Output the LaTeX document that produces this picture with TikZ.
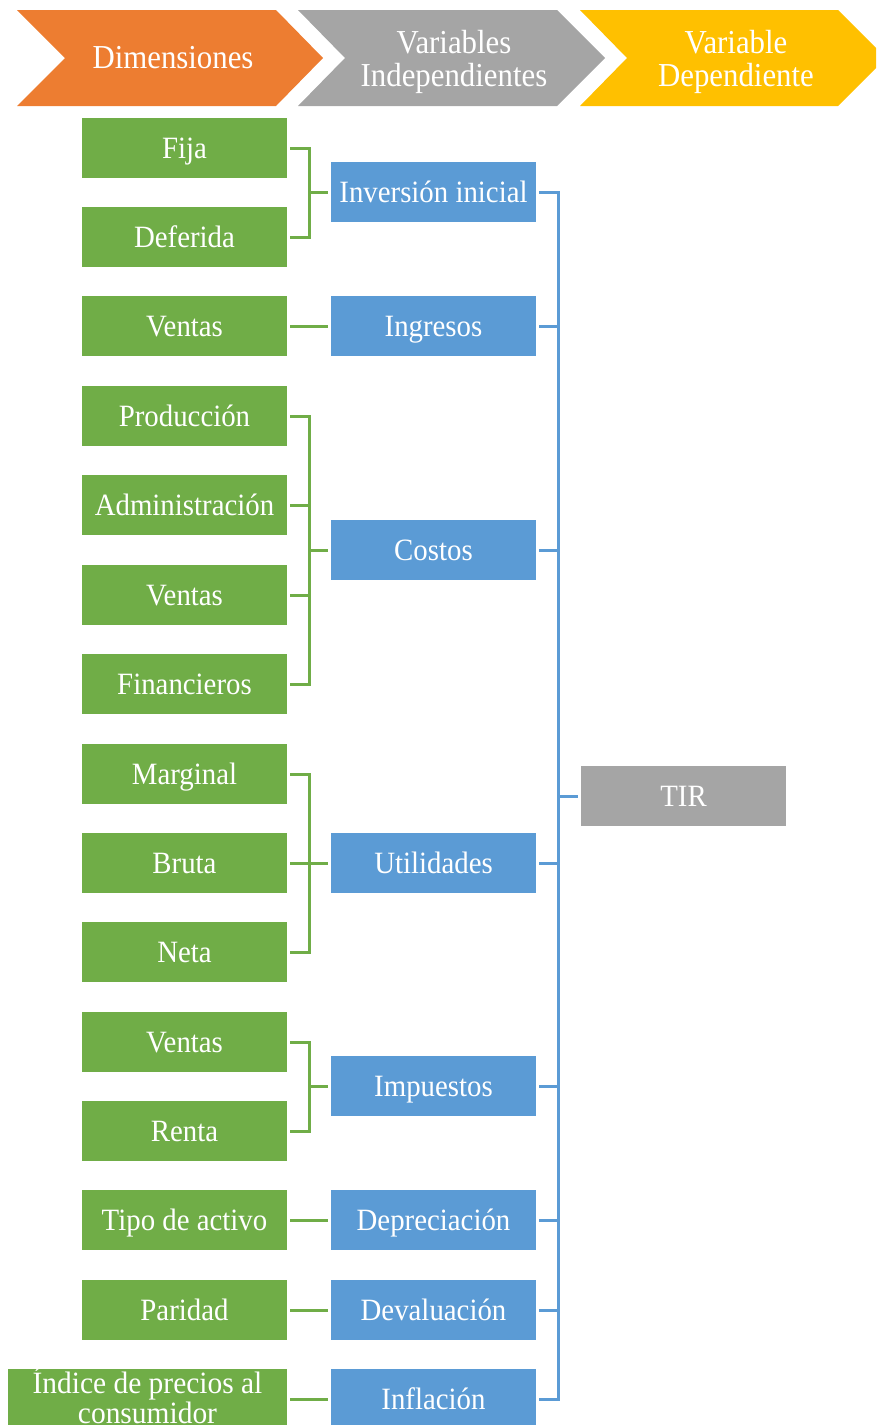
\documentclass[tikz,border=0pt]{standalone}
\usepackage{fontspec}
\setmainfont{Liberation Serif}
\newfontfamily\boxfont[FakeStretch=0.93]{Liberation Serif}
\newfontfamily\headfont[FakeStretch=0.92]{Liberation Serif}
\newfontfamily\wideboxfont[FakeStretch=0.95]{Liberation Serif}
\definecolor{cOrange}{HTML}{ED7D31}
\definecolor{cGray}{HTML}{A5A5A5}
\definecolor{cYellow}{HTML}{FFC000}
\definecolor{cGreen}{HTML}{70AD47}
\definecolor{cBlue}{HTML}{5B9BD5}
\tikzset{
  dimbox/.style={fill=cGreen, text=white, minimum width=205pt, minimum height=60pt,
    inner sep=0pt, font=\boxfont\fontsize{31}{34}\selectfont, align=center,
    text height=20.5pt, text depth=0pt},
  varbox/.style={dimbox, fill=cBlue},
  tirbox/.style={dimbox, fill=cGray},
  headtext/.style={text=white, font=\headfont\fontsize{33.5}{33}\selectfont,
    align=center, inner sep=0pt},
  gline/.style={draw=cGreen, line width=3pt},
  bline/.style={draw=cBlue, line width=3pt},
}
\begin{document}
\begin{tikzpicture}[x=1pt, y=-1pt]
\useasboundingbox (0,0) rectangle (876,1425);
\clip (0,0) rectangle (876,1425);

% header chevrons
\fill[cOrange] (17,10) -- (276,10) -- (323,58) -- (276,106) -- (17,106) -- (65,58) -- cycle;
\fill[cGray] (298,10) -- (557,10) -- (605,58) -- (557,106) -- (298,106) -- (345,58) -- cycle;
\fill[cYellow] (580,10) -- (838,10) -- (886,58) -- (838,106) -- (580,106) -- (627,58) -- cycle;
\node[headtext, text height=22pt, text depth=0pt] (hdim) at (173,57.5) {Dimensiones};
\node[headtext] (hind) at (454,61.5) {Variables\\Independientes};
\node[headtext] (hdep) at (736,61.5) {Variable\\Dependiente};

% dimensions
\node[dimbox] (fija) at (184.5,148) {Fija};
\node[dimbox] (deferida) at (184.5,237) {Deferida};
\node[dimbox] (ventasA) at (184.5,326) {Ventas};
\node[dimbox] (produccion) at (184.5,416) {Producción};
\node[dimbox] (admin) at (184.5,505) {Administración};
\node[dimbox] (ventasB) at (184.5,595) {Ventas};
\node[dimbox] (financieros) at (184.5,684) {Financieros};
\node[dimbox] (marginal) at (184.5,774) {Marginal};
\node[dimbox] (bruta) at (184.5,863) {Bruta};
\node[dimbox] (neta) at (184.5,952) {Neta};
\node[dimbox] (ventasC) at (184.5,1042) {Ventas};
\node[dimbox] (renta) at (184.5,1131) {Renta};
\node[dimbox] (tipo) at (184.5,1220) {Tipo de activo};
\node[dimbox] (paridad) at (184.5,1310) {Paridad};
\node[dimbox, minimum width=279pt, font=\wideboxfont\fontsize{31}{30}\selectfont,
  text height=54pt, text depth=6pt] (indice) at (147.5,1399)
  {Índice de precios al\\consumidor};

% independent variables
\node[varbox] (inversion) at (433.5,192) {Inversión inicial};
\node[varbox] (ingresos) at (433.5,326) {Ingresos};
\node[varbox] (costos) at (433.5,550) {Costos};
\node[varbox] (utilidades) at (433.5,863) {Utilidades};
\node[varbox] (impuestos) at (433.5,1086) {Impuestos};
\node[varbox] (depreciacion) at (433.5,1220) {Depreciación};
\node[varbox] (devaluacion) at (433.5,1310) {Devaluación};
\node[varbox] (inflacion) at (433.5,1399) {Inflación};

% dependent variable
\node[tirbox] (tir) at (683.5,796) {TIR};

% dimension -> variable brackets
\foreach \c/\p in {fija/inversion, deferida/inversion, ventasA/ingresos,
    produccion/costos, admin/costos, ventasB/costos, financieros/costos,
    marginal/utilidades, bruta/utilidades, neta/utilidades,
    ventasC/impuestos, renta/impuestos, tipo/depreciacion,
    paridad/devaluacion, indice/inflacion}
  \draw[gline] ([xshift=3pt]\c.east) -- ++(19,0) |- ([xshift=-3pt]\p.west);

% variable -> TIR bracket
\foreach \v in {inversion, ingresos, costos, utilidades, impuestos,
    depreciacion, devaluacion, inflacion}
  \draw[bline] ([xshift=3pt]\v.east) -- ++(19,0) |- ([xshift=-3pt]tir.west);
\end{tikzpicture}
\end{document}
